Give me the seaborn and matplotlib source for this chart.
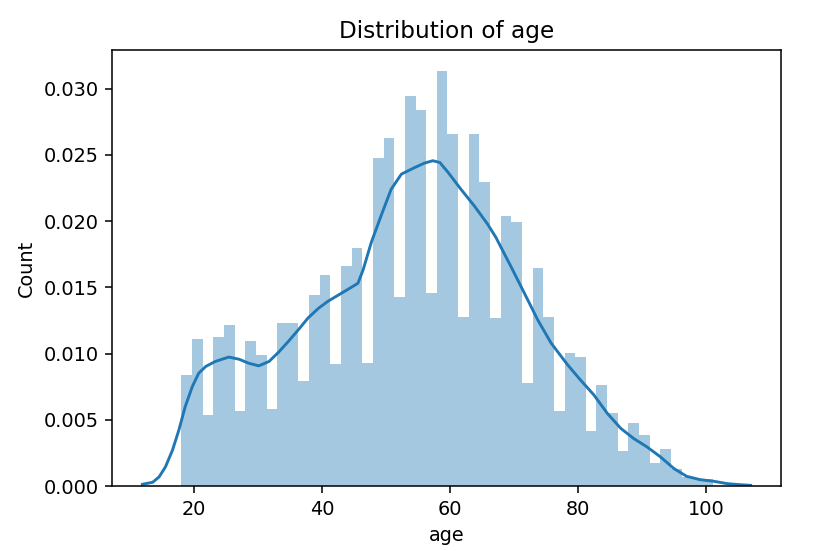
import numpy as np
import pandas as pd
import matplotlib
matplotlib.use("Agg")
import matplotlib.pyplot as plt
import seaborn as sns

# histogram: 50 bins starting at age 18 (density values)
bin_start = 18.0
bin_width = 1.664
hist_density = [
    0.00839, 0.01111, 0.00536, 0.01127, 0.01218, 0.00566, 0.01096, 0.00990, 0.00581, 0.01233,
    0.01233, 0.00793, 0.01445, 0.01596, 0.00920, 0.01657, 0.01793, 0.00930, 0.02475, 0.02627,
    0.01430, 0.02945, 0.02840, 0.01460, 0.03134, 0.02657, 0.01278, 0.02657, 0.02293, 0.01268,
    0.02036, 0.01990, 0.00778, 0.01642, 0.01278, 0.00566, 0.01005, 0.00975, 0.00414, 0.00763,
    0.00551, 0.00263, 0.00475, 0.00384, 0.00172, 0.00278, 0.00127, 0.00066, 0.00050, 0.00050,
]

# kde curve, read point by point
kde_age = [11.9, 13.5, 14.5, 15.5, 16.6, 17.6, 18.6, 19.7, 20.7, 21.8, 23.3, 25.4, 27.0,
           28.5, 30.1, 31.7, 33.2, 34.7, 36.3, 37.8, 39.4, 40.9, 42.5, 44.0, 45.6, 46.4,
           47.7, 49.3, 50.8, 52.4, 54.5, 56.0, 57.3, 58.4, 59.7, 61.7, 63.8, 65.9, 67.2,
           69.5, 71.6, 73.7, 75.8, 78.4, 80.4, 82.5, 84.6, 86.7, 88.7, 90.8, 92.9, 95.0,
           97.0, 99.1, 101.2, 103.3, 105.3, 107.0]
kde_density = [0.00013, 0.00028, 0.00068, 0.00144, 0.0027, 0.00422, 0.0060, 0.0075, 0.00851,
               0.00902, 0.0094, 0.00973, 0.00957, 0.00927, 0.00907, 0.0094, 0.0101, 0.0109,
               0.0118, 0.01268, 0.0134, 0.01394, 0.0144, 0.01483, 0.0153, 0.0163, 0.0184,
               0.0205, 0.0224, 0.02354, 0.02404, 0.02437, 0.02455, 0.02442, 0.02367, 0.0224,
               0.02114, 0.01975, 0.01874, 0.01659, 0.01458, 0.01255, 0.01079, 0.00914, 0.0080,
               0.00687, 0.00548, 0.00435, 0.00359, 0.00295, 0.0022, 0.00132, 0.00073, 0.00048,
               0.00036, 0.00018, 0.0001, 0.00005]

edges = bin_start + bin_width * np.arange(len(hist_density) + 1)
hist_df = pd.DataFrame({"age": (edges[:-1] + edges[1:]) / 2, "density": hist_density})
kde_df = pd.DataFrame({"age": kde_age, "density": kde_density})

fig = plt.figure(figsize=(835 / 139, 551 / 139), dpi=139)
ax = fig.add_axes([112 / 835, 1 - 486 / 551, (781 - 112) / 835, (486 - 50) / 551])

sns.histplot(data=hist_df, x="age", weights="density", bins=list(edges),
             color="#1f77b4", alpha=0.4, linewidth=0, ax=ax)
sns.lineplot(data=kde_df, x="age", y="density", color="#1f77b4", linewidth=1.5,
             sort=False, ax=ax)

ax.set_title("Distribution of age")
ax.set_xlabel("age")
ax.set_ylabel("Count")

plt.savefig("out.png", dpi=139)
